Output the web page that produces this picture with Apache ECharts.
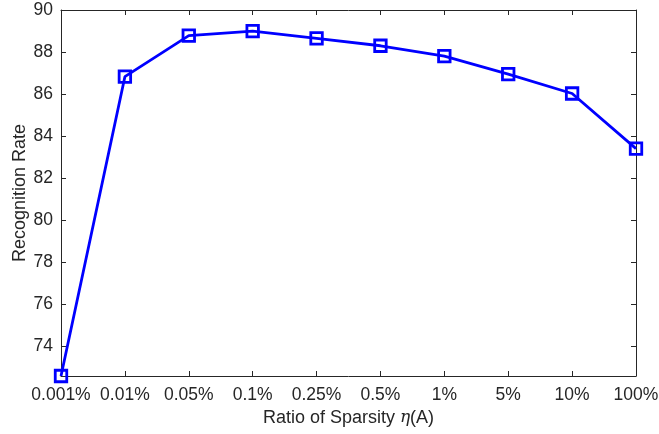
<!DOCTYPE html>
<html>
<head>
<meta charset="utf-8">
<script src="https://cdn.jsdelivr.net/npm/echarts@6/dist/echarts.min.js"></script>
<style>html,body{margin:0;padding:0;background:#fff;}#c{width:659px;height:434px;}</style>
</head>
<body>
<div id="c"></div>
<script>
const categories = ['0.001%', '0.01%', '0.05%', '0.1%', '0.25%', '0.5%', '1%', '5%', '10%', '100%'];
const rates = [72.6, 86.83, 88.78, 89.0, 88.65, 88.3, 87.81, 86.95, 86.03, 83.41];
const yTicks = [74, 76, 78, 80, 82, 84, 86, 88, 90];
const yMin = 72.6, yMax = 90;

const axisColor = '#262626';
const font = 'Liberation Sans, Arial, Helvetica, sans-serif';
const chart = echarts.init(document.getElementById('c'), null, {renderer: 'canvas'});
chart.setOption({
  animation: false,
  backgroundColor: '#fff',
  grid: {left: 61, right: 23, top: 10, bottom: 58, containLabel: false, outerBoundsMode: 'none'},
  xAxis: [{
    type: 'category', data: categories, boundaryGap: false, position: 'bottom',
    axisLine: {lineStyle: {color: axisColor, width: 1}},
    axisTick: {inside: true, length: 5, alignWithLabel: true, lineStyle: {color: axisColor}},
    axisLabel: {color: '#262626', fontSize: 17.5, fontFamily: font, margin: 10, interval: 0},
    splitLine: {show: false},
    name: 'Ratio of Sparsity {i|η}(A)', nameLocation: 'middle', nameGap: 33, nameMoveOverlap: false,
    nameTextStyle: {color: '#262626', fontSize: 18, fontFamily: font,
      rich: {i: {fontStyle: 'italic', fontFamily: 'DejaVu Serif, serif', fontSize: 17, color: '#262626'}}}
  }, {
    type: 'category', data: categories, boundaryGap: false, position: 'top',
    axisLine: {lineStyle: {color: axisColor, width: 1}},
    axisTick: {inside: true, length: 5, lineStyle: {color: axisColor}},
    axisLabel: {show: false}, splitLine: {show: false}
  }],
  yAxis: [{
    type: 'value', min: yMin, max: yMax, position: 'left',
    axisLine: {show: true, lineStyle: {color: axisColor, width: 1}},
    axisTick: {show: true, inside: true, length: 5, customValues: yTicks, lineStyle: {color: axisColor}},
    axisLabel: {color: '#262626', fontSize: 17.5, fontFamily: font, margin: 8, customValues: yTicks},
    splitLine: {show: false},
    name: 'Recognition Rate', nameLocation: 'middle', nameGap: 32, nameMoveOverlap: false,
    nameTextStyle: {color: '#262626', fontSize: 18, fontFamily: font}
  }, {
    type: 'value', min: yMin, max: yMax, position: 'right',
    axisLine: {show: true, lineStyle: {color: axisColor, width: 1}},
    axisTick: {show: true, inside: true, length: 5, customValues: yTicks, lineStyle: {color: axisColor}},
    axisLabel: {show: false}, splitLine: {show: false}
  }],
  series: [{
    type: 'line', data: rates, xAxisIndex: 0, yAxisIndex: 0,
    lineStyle: {color: '#0000ff', width: 2.8},
    itemStyle: {color: 'rgba(255,255,255,0)', borderColor: '#0000ff', borderWidth: 2.8},
    symbol: 'rect', symbolSize: 11.5, showAllSymbol: true,
    clip: false
  }]
});
</script>
</body>
</html>
